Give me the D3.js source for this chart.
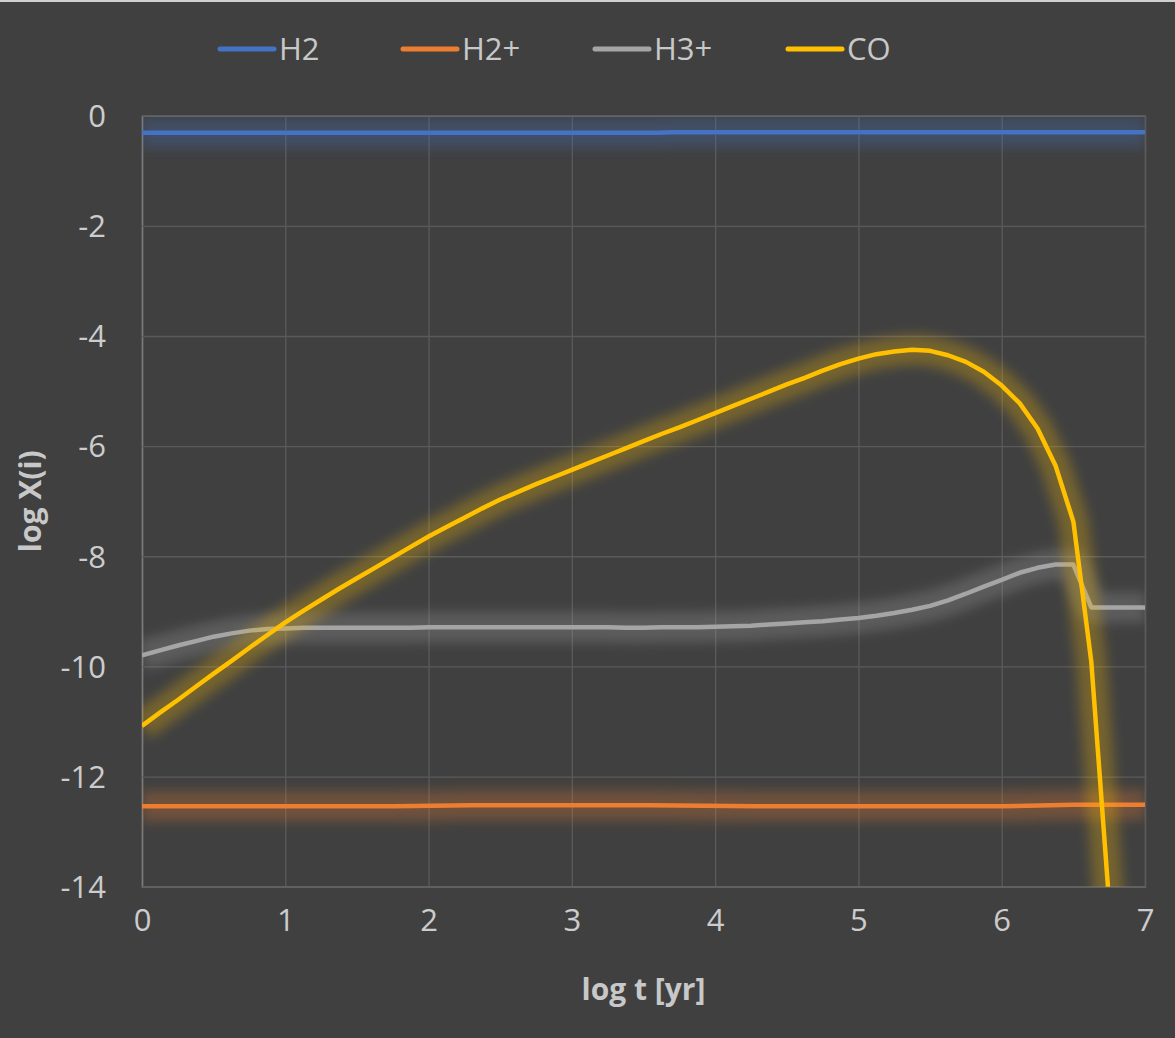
<!DOCTYPE html>
<html>
<head>
<meta charset="utf-8">
<script src="https://cdnjs.cloudflare.com/ajax/libs/d3/7.8.5/d3.min.js"></script>
<style>
  html, body { margin: 0; padding: 0; background: #404040; }
  svg { display: block; }
  text { font-family: "Open Sans", "Noto Sans", sans-serif; fill: #c8c8c8; }
</style>
</head>
<body>
<svg id="chart" width="1175" height="1038"></svg>
<script>
// log t [yr] sample points (every 1/8 decade)
var tSteps = [0, 0.125, 0.25, 0.375, 0.5, 0.625, 0.75, 0.875,
  1, 1.125, 1.25, 1.375, 1.5, 1.625, 1.75, 1.875,
  2, 2.125, 2.25, 2.375, 2.5, 2.625, 2.75, 2.875,
  3, 3.125, 3.25, 3.375, 3.5, 3.625, 3.75, 3.875,
  4, 4.125, 4.25, 4.375, 4.5, 4.625, 4.75, 4.875,
  5, 5.125, 5.25, 5.375, 5.5, 5.625, 5.75, 5.875,
  6, 6.125, 6.25, 6.375, 6.5, 6.625, 6.75, 6.875, 7];

var h3pValues = [-9.80, -9.71, -9.62, -9.54, -9.46, -9.40, -9.35, -9.32,
  -9.31, -9.30, -9.30, -9.30, -9.30, -9.30, -9.30, -9.30,
  -9.29, -9.29, -9.29, -9.29, -9.29, -9.29, -9.29, -9.29,
  -9.29, -9.29, -9.29, -9.30, -9.30, -9.29, -9.29, -9.29,
  -9.28, -9.27, -9.26, -9.24, -9.22, -9.20, -9.18, -9.15,
  -9.12, -9.08, -9.03, -8.97, -8.90, -8.80, -8.68, -8.55,
  -8.43, -8.30, -8.21, -8.15, -8.15, -8.93, -8.93, -8.93, -8.93];

var coValues = [-11.08, -10.84, -10.61, -10.37, -10.13, -9.90, -9.66, -9.43,
  -9.20, -8.99, -8.79, -8.59, -8.40, -8.21, -8.02, -7.83,
  -7.64, -7.47, -7.30, -7.13, -6.97, -6.83, -6.69, -6.56,
  -6.43, -6.30, -6.17, -6.04, -5.91, -5.78, -5.66, -5.53,
  -5.40, -5.27, -5.14, -5.01, -4.88, -4.76, -4.63, -4.51,
  -4.41, -4.33, -4.28, -4.25, -4.27, -4.35, -4.47, -4.65,
  -4.90, -5.22, -5.68, -6.35, -7.37, -9.91, -14.3, -19.0, null];

var h2T = [0, 3.6, 3.7, 7];
var h2Values = [-0.31, -0.31, -0.30, -0.30];

var h2pT = [0, 1.75, 2.3, 3.55, 4.3, 6.0, 6.5, 7];
var h2pValues = [-12.54, -12.54, -12.52, -12.52, -12.54, -12.54, -12.51, -12.51];

var seriesNames = ["H2", "H2+", "H3+", "CO"];
var seriesColors = ["#4472C4", "#ED7D31", "#A5A5A5", "#FFC000"];
var xTicks = [0, 1, 2, 3, 4, 5, 6, 7];
var yTicks = [0, -2, -4, -6, -8, -10, -12, -14];

(function() {
  var svg = d3.select("#chart");
  var left = 142, right = 1145, plotTop = 115.7, bottom = 886.7;

  var x = d3.scaleLinear().domain([0, 7]).range([left, right]);
  var y = d3.scaleLinear().domain([-14, 0]).range([bottom, plotTop]);

  // chart border line at top
  svg.append("rect").attr("x", 0).attr("y", 0).attr("width", 1175).attr("height", 2)
    .style("fill", "#d0d0d0");

  var defs = svg.append("defs");
  defs.append("clipPath").attr("id", "plotclip")
    .append("rect").attr("x", left).attr("y", plotTop)
    .attr("width", right - left).attr("height", bottom - plotTop);
  defs.append("filter").attr("id", "glow")
    .attr("filterUnits", "userSpaceOnUse")
    .attr("x", 0).attr("y", 0).attr("width", 1175).attr("height", 1038)
    .append("feGaussianBlur").attr("stdDeviation", 6);

  // axes + gridlines
  var xAxis = d3.axisBottom(x).tickValues(xTicks).tickFormat(d3.format("d"))
    .tickSize(-(bottom - plotTop)).tickPadding(22);
  var yAxis = d3.axisLeft(y).tickValues(yTicks)
    .tickFormat(function(d) { return d < 0 ? "-" + Math.abs(d) : d; })
    .tickSize(-(right - left)).tickPadding(36);

  var gx = svg.append("g").attr("transform", "translate(0," + bottom + ")").call(xAxis);
  var gy = svg.append("g").attr("transform", "translate(" + left + ",0)").call(yAxis);

  gx.select(".domain").style("stroke", "#5e5e5e").style("stroke-width", 1.5);
  gy.select(".domain").style("stroke", "#7a7a7a").style("stroke-width", 1.5);
  gx.selectAll(".tick line").style("stroke", "#5a5a5a").style("stroke-width", 1.3);
  gy.selectAll(".tick line").style("stroke", "#5a5a5a").style("stroke-width", 1.3);
  gx.selectAll(".tick text").style("font-size", "31px").style("fill", "#cccccc")
    .style("font-family", "'Open Sans', sans-serif");
  gy.selectAll(".tick text").style("font-size", "31px").style("fill", "#cccccc")
    .style("font-family", "'Open Sans', sans-serif").attr("dy", "0.35em");

  var series = [
    {name: "H2", t: h2T, v: h2Values},
    {name: "H2+", t: h2pT, v: h2pValues},
    {name: "H3+", t: tSteps, v: h3pValues},
    {name: "CO", t: tSteps, v: coValues}
  ];

  var line = d3.line()
    .defined(function(d) { return d[1] !== null; })
    .x(function(d) { return x(d[0]); })
    .y(function(d) { return y(d[1]); });

  var plot = svg.append("g").attr("clip-path", "url(#plotclip)");

  series.forEach(function(s) {
    var pts = s.t.map(function(t, j) { return [t, s.v[j]]; });
    var color = seriesColors[seriesNames.indexOf(s.name)];
    plot.append("path")
      .attr("d", line(pts))
      .style("fill", "none")
      .style("stroke", color)
      .style("stroke-width", 30)
      .style("stroke-opacity", 0.28)
      .style("stroke-linejoin", "round")
      .attr("filter", "url(#glow)");
    plot.append("path")
      .attr("d", line(pts))
      .style("fill", "none")
      .style("stroke", color)
      .style("stroke-width", 4.5)
      .style("stroke-linejoin", "round");
  });

  // legend
  var legendX = [220, 403, 595, 788];
  var legend = svg.append("g");
  seriesNames.forEach(function(name, i) {
    legend.append("line")
      .attr("x1", legendX[i]).attr("x2", legendX[i] + 54)
      .attr("y1", 49).attr("y2", 49)
      .style("stroke", seriesColors[i]).style("stroke-width", 5)
      .style("stroke-linecap", "round");
    legend.append("text")
      .attr("x", legendX[i] + 59).attr("y", 60)
      .style("font-size", "31px")
      .text(name);
  });

  // axis titles
  svg.append("text")
    .attr("x", (left + right) / 2).attr("y", 1000)
    .attr("text-anchor", "middle")
    .style("font-size", "30px").style("font-weight", "bold")
    .text("log t [yr]");

  svg.append("text")
    .attr("transform", "translate(41," + (plotTop + bottom) / 2 + ") rotate(-90)")
    .attr("text-anchor", "middle")
    .style("font-size", "30px").style("font-weight", "bold")
    .text("log X(i)");
})();
</script>
</body>
</html>
